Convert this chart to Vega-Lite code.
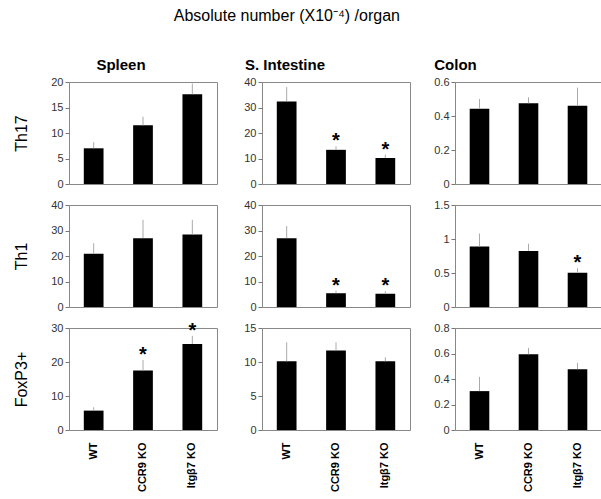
{
  "$schema": "https://vega.github.io/schema/vega-lite/v6.json",
  "background": "white",
  "padding": {"left": 13, "top": 7, "right": 5, "bottom": 5},
  "datasets": {
    "d": [
      {"organ": "Spleen", "cell": "Th17", "genotype": "WT", "value": 7.0, "err": 8.2, "sig": false},
      {"organ": "Spleen", "cell": "Th17", "genotype": "CCR9 KO", "value": 11.5, "err": 13.2, "sig": false},
      {"organ": "Spleen", "cell": "Th17", "genotype": "Itgβ7 KO", "value": 17.6, "err": 19.7, "sig": false},
      {"organ": "S. Intestine", "cell": "Th17", "genotype": "WT", "value": 32.4, "err": 38.0, "sig": false},
      {"organ": "S. Intestine", "cell": "Th17", "genotype": "CCR9 KO", "value": 13.4, "err": 14.8, "sig": true},
      {"organ": "S. Intestine", "cell": "Th17", "genotype": "Itgβ7 KO", "value": 10.2, "err": 11.5, "sig": true},
      {"organ": "Colon", "cell": "Th17", "genotype": "WT", "value": 0.443, "err": 0.5, "sig": false},
      {"organ": "Colon", "cell": "Th17", "genotype": "CCR9 KO", "value": 0.475, "err": 0.51, "sig": false},
      {"organ": "Colon", "cell": "Th17", "genotype": "Itgβ7 KO", "value": 0.461, "err": 0.567, "sig": false},
      {"organ": "Spleen", "cell": "Th1", "genotype": "WT", "value": 20.9, "err": 25.0, "sig": false},
      {"organ": "Spleen", "cell": "Th1", "genotype": "CCR9 KO", "value": 27.0, "err": 34.2, "sig": false},
      {"organ": "Spleen", "cell": "Th1", "genotype": "Itgβ7 KO", "value": 28.4, "err": 34.2, "sig": false},
      {"organ": "S. Intestine", "cell": "Th1", "genotype": "WT", "value": 27.0, "err": 31.8, "sig": false},
      {"organ": "S. Intestine", "cell": "Th1", "genotype": "CCR9 KO", "value": 5.4, "err": 6.4, "sig": true},
      {"organ": "S. Intestine", "cell": "Th1", "genotype": "Itgβ7 KO", "value": 5.2, "err": 6.2, "sig": true},
      {"organ": "Colon", "cell": "Th1", "genotype": "WT", "value": 0.89, "err": 1.08, "sig": false},
      {"organ": "Colon", "cell": "Th1", "genotype": "CCR9 KO", "value": 0.825, "err": 0.93, "sig": false},
      {"organ": "Colon", "cell": "Th1", "genotype": "Itgβ7 KO", "value": 0.505, "err": 0.57, "sig": true},
      {"organ": "Spleen", "cell": "FoxP3+", "genotype": "WT", "value": 5.7, "err": 6.7, "sig": false},
      {"organ": "Spleen", "cell": "FoxP3+", "genotype": "CCR9 KO", "value": 17.5, "err": 20.6, "sig": true},
      {"organ": "Spleen", "cell": "FoxP3+", "genotype": "Itgβ7 KO", "value": 25.3, "err": 27.7, "sig": true},
      {"organ": "S. Intestine", "cell": "FoxP3+", "genotype": "WT", "value": 10.1, "err": 12.9, "sig": false},
      {"organ": "S. Intestine", "cell": "FoxP3+", "genotype": "CCR9 KO", "value": 11.7, "err": 12.9, "sig": false},
      {"organ": "S. Intestine", "cell": "FoxP3+", "genotype": "Itgβ7 KO", "value": 10.1, "err": 10.7, "sig": false},
      {"organ": "Colon", "cell": "FoxP3+", "genotype": "WT", "value": 0.305, "err": 0.417, "sig": false},
      {"organ": "Colon", "cell": "FoxP3+", "genotype": "CCR9 KO", "value": 0.594, "err": 0.644, "sig": false},
      {"organ": "Colon", "cell": "FoxP3+", "genotype": "Itgβ7 KO", "value": 0.477, "err": 0.526, "sig": false}
    ]
  },
  "data": {"name": "d"},
  "title": {"text": "Absolute number (X10⁻⁴) /organ", "font": "Liberation Sans", "fontSize": 16, "fontWeight": "normal", "color": "black", "anchor": "middle", "offset": 34, "dx": -21},
  "columns": 3,
  "spacing": {"row": 21, "column": 45},
  "bounds": "flush",
  "concat": [
    {"width": 148, "height": 102, "title": {"text": "Spleen", "dx": -22},
     "transform": [{"filter": "datum.organ==='Spleen' && datum.cell==='Th17'"}],
     "encoding": {"x": {"field": "genotype", "type": "nominal", "sort": ["WT", "CCR9 KO", "Itgβ7 KO"], "scale": {"paddingInner": 0.6, "paddingOuter": 0.3}, "axis": null}},
     "layer": [
       {"mark": {"type": "bar", "color": "black"}, "encoding": {"y": {"field": "value", "type": "quantitative", "scale": {"domain": [0, 20]}, "axis": {"values": [0, 5, 10, 15, 20], "title": "Th17"}}}},
       {"mark": {"type": "rule", "color": "#aaaaaa"}, "encoding": {"y": {"field": "value", "type": "quantitative", "scale": {"domain": [0, 20]}, "axis": {"values": [0, 5, 10, 15, 20], "title": "Th17"}}, "y2": {"field": "err"}}},
       {"transform": [{"filter": "datum.sig"}], "mark": {"type": "text", "text": "*", "fontSize": 20, "fontWeight": "bold", "font": "Liberation Sans", "baseline": "alphabetic", "dy": 1}, "encoding": {"y": {"field": "err", "type": "quantitative", "scale": {"domain": [0, 20]}, "axis": {"values": [0, 5, 10, 15, 20], "title": "Th17"}}}}
     ]},
    {"width": 148, "height": 102, "title": {"text": "S. Intestine", "dx": -51},
     "transform": [{"filter": "datum.organ==='S. Intestine' && datum.cell==='Th17'"}],
     "encoding": {"x": {"field": "genotype", "type": "nominal", "sort": ["WT", "CCR9 KO", "Itgβ7 KO"], "scale": {"paddingInner": 0.6, "paddingOuter": 0.3}, "axis": null}},
     "layer": [
       {"mark": {"type": "bar", "color": "black"}, "encoding": {"y": {"field": "value", "type": "quantitative", "scale": {"domain": [0, 40]}, "axis": {"values": [0, 10, 20, 30, 40], "title": null}}}},
       {"mark": {"type": "rule", "color": "#aaaaaa"}, "encoding": {"y": {"field": "value", "type": "quantitative", "scale": {"domain": [0, 40]}, "axis": {"values": [0, 10, 20, 30, 40], "title": null}}, "y2": {"field": "err"}}},
       {"transform": [{"filter": "datum.sig"}], "mark": {"type": "text", "text": "*", "fontSize": 20, "fontWeight": "bold", "font": "Liberation Sans", "baseline": "alphabetic", "dy": 1}, "encoding": {"y": {"field": "err", "type": "quantitative", "scale": {"domain": [0, 40]}, "axis": {"values": [0, 10, 20, 30, 40], "title": null}}}}
     ]},
    {"width": 147, "height": 102, "title": {"text": "Colon", "dx": -73},
     "transform": [{"filter": "datum.organ==='Colon' && datum.cell==='Th17'"}],
     "encoding": {"x": {"field": "genotype", "type": "nominal", "sort": ["WT", "CCR9 KO", "Itgβ7 KO"], "scale": {"paddingInner": 0.6, "paddingOuter": 0.3}, "axis": null}},
     "layer": [
       {"mark": {"type": "bar", "color": "black"}, "encoding": {"y": {"field": "value", "type": "quantitative", "scale": {"domain": [0, 0.6]}, "axis": {"values": [0, 0.2, 0.4, 0.6], "title": null}}}},
       {"mark": {"type": "rule", "color": "#aaaaaa"}, "encoding": {"y": {"field": "value", "type": "quantitative", "scale": {"domain": [0, 0.6]}, "axis": {"values": [0, 0.2, 0.4, 0.6], "title": null}}, "y2": {"field": "err"}}},
       {"transform": [{"filter": "datum.sig"}], "mark": {"type": "text", "text": "*", "fontSize": 20, "fontWeight": "bold", "font": "Liberation Sans", "baseline": "alphabetic", "dy": 1}, "encoding": {"y": {"field": "err", "type": "quantitative", "scale": {"domain": [0, 0.6]}, "axis": {"values": [0, 0.2, 0.4, 0.6], "title": null}}}}
     ]},
    {"width": 148, "height": 102,
     "transform": [{"filter": "datum.organ==='Spleen' && datum.cell==='Th1'"}],
     "encoding": {"x": {"field": "genotype", "type": "nominal", "sort": ["WT", "CCR9 KO", "Itgβ7 KO"], "scale": {"paddingInner": 0.6, "paddingOuter": 0.3}, "axis": null}},
     "layer": [
       {"mark": {"type": "bar", "color": "black"}, "encoding": {"y": {"field": "value", "type": "quantitative", "scale": {"domain": [0, 40]}, "axis": {"values": [0, 10, 20, 30, 40], "title": "Th1"}}}},
       {"mark": {"type": "rule", "color": "#aaaaaa"}, "encoding": {"y": {"field": "value", "type": "quantitative", "scale": {"domain": [0, 40]}, "axis": {"values": [0, 10, 20, 30, 40], "title": "Th1"}}, "y2": {"field": "err"}}},
       {"transform": [{"filter": "datum.sig"}], "mark": {"type": "text", "text": "*", "fontSize": 20, "fontWeight": "bold", "font": "Liberation Sans", "baseline": "alphabetic", "dy": 1}, "encoding": {"y": {"field": "err", "type": "quantitative", "scale": {"domain": [0, 40]}, "axis": {"values": [0, 10, 20, 30, 40], "title": "Th1"}}}}
     ]},
    {"width": 148, "height": 102,
     "transform": [{"filter": "datum.organ==='S. Intestine' && datum.cell==='Th1'"}],
     "encoding": {"x": {"field": "genotype", "type": "nominal", "sort": ["WT", "CCR9 KO", "Itgβ7 KO"], "scale": {"paddingInner": 0.6, "paddingOuter": 0.3}, "axis": null}},
     "layer": [
       {"mark": {"type": "bar", "color": "black"}, "encoding": {"y": {"field": "value", "type": "quantitative", "scale": {"domain": [0, 40]}, "axis": {"values": [0, 10, 20, 30, 40], "title": null}}}},
       {"mark": {"type": "rule", "color": "#aaaaaa"}, "encoding": {"y": {"field": "value", "type": "quantitative", "scale": {"domain": [0, 40]}, "axis": {"values": [0, 10, 20, 30, 40], "title": null}}, "y2": {"field": "err"}}},
       {"transform": [{"filter": "datum.sig"}], "mark": {"type": "text", "text": "*", "fontSize": 20, "fontWeight": "bold", "font": "Liberation Sans", "baseline": "alphabetic", "dy": 1}, "encoding": {"y": {"field": "err", "type": "quantitative", "scale": {"domain": [0, 40]}, "axis": {"values": [0, 10, 20, 30, 40], "title": null}}}}
     ]},
    {"width": 147, "height": 102,
     "transform": [{"filter": "datum.organ==='Colon' && datum.cell==='Th1'"}],
     "encoding": {"x": {"field": "genotype", "type": "nominal", "sort": ["WT", "CCR9 KO", "Itgβ7 KO"], "scale": {"paddingInner": 0.6, "paddingOuter": 0.3}, "axis": null}},
     "layer": [
       {"mark": {"type": "bar", "color": "black"}, "encoding": {"y": {"field": "value", "type": "quantitative", "scale": {"domain": [0, 1.5]}, "axis": {"values": [0, 0.5, 1, 1.5], "title": null}}}},
       {"mark": {"type": "rule", "color": "#aaaaaa"}, "encoding": {"y": {"field": "value", "type": "quantitative", "scale": {"domain": [0, 1.5]}, "axis": {"values": [0, 0.5, 1, 1.5], "title": null}}, "y2": {"field": "err"}}},
       {"transform": [{"filter": "datum.sig"}], "mark": {"type": "text", "text": "*", "fontSize": 20, "fontWeight": "bold", "font": "Liberation Sans", "baseline": "alphabetic", "dy": 1}, "encoding": {"y": {"field": "err", "type": "quantitative", "scale": {"domain": [0, 1.5]}, "axis": {"values": [0, 0.5, 1, 1.5], "title": null}}}}
     ]},
    {"width": 148, "height": 102,
     "transform": [{"filter": "datum.organ==='Spleen' && datum.cell==='FoxP3+'"}],
     "encoding": {"x": {"field": "genotype", "type": "nominal", "sort": ["WT", "CCR9 KO", "Itgβ7 KO"], "scale": {"paddingInner": 0.6, "paddingOuter": 0.3}, "axis": {"title": null, "labelAngle": -90, "ticks": false, "domain": false, "labelFontWeight": "bold", "labelPadding": 12, "labelColor": "black"}}},
     "layer": [
       {"mark": {"type": "bar", "color": "black"}, "encoding": {"y": {"field": "value", "type": "quantitative", "scale": {"domain": [0, 30]}, "axis": {"values": [0, 10, 20, 30], "title": "FoxP3+"}}}},
       {"mark": {"type": "rule", "color": "#aaaaaa"}, "encoding": {"y": {"field": "value", "type": "quantitative", "scale": {"domain": [0, 30]}, "axis": {"values": [0, 10, 20, 30], "title": "FoxP3+"}}, "y2": {"field": "err"}}},
       {"transform": [{"filter": "datum.sig"}], "mark": {"type": "text", "text": "*", "fontSize": 20, "fontWeight": "bold", "font": "Liberation Sans", "baseline": "alphabetic", "dy": 1}, "encoding": {"y": {"field": "err", "type": "quantitative", "scale": {"domain": [0, 30]}, "axis": {"values": [0, 10, 20, 30], "title": "FoxP3+"}}}}
     ]},
    {"width": 148, "height": 102,
     "transform": [{"filter": "datum.organ==='S. Intestine' && datum.cell==='FoxP3+'"}],
     "encoding": {"x": {"field": "genotype", "type": "nominal", "sort": ["WT", "CCR9 KO", "Itgβ7 KO"], "scale": {"paddingInner": 0.6, "paddingOuter": 0.3}, "axis": {"title": null, "labelAngle": -90, "ticks": false, "domain": false, "labelFontWeight": "bold", "labelPadding": 12, "labelColor": "black"}}},
     "layer": [
       {"mark": {"type": "bar", "color": "black"}, "encoding": {"y": {"field": "value", "type": "quantitative", "scale": {"domain": [0, 15]}, "axis": {"values": [0, 5, 10, 15], "title": null}}}},
       {"mark": {"type": "rule", "color": "#aaaaaa"}, "encoding": {"y": {"field": "value", "type": "quantitative", "scale": {"domain": [0, 15]}, "axis": {"values": [0, 5, 10, 15], "title": null}}, "y2": {"field": "err"}}},
       {"transform": [{"filter": "datum.sig"}], "mark": {"type": "text", "text": "*", "fontSize": 20, "fontWeight": "bold", "font": "Liberation Sans", "baseline": "alphabetic", "dy": 1}, "encoding": {"y": {"field": "err", "type": "quantitative", "scale": {"domain": [0, 15]}, "axis": {"values": [0, 5, 10, 15], "title": null}}}}
     ]},
    {"width": 147, "height": 102,
     "transform": [{"filter": "datum.organ==='Colon' && datum.cell==='FoxP3+'"}],
     "encoding": {"x": {"field": "genotype", "type": "nominal", "sort": ["WT", "CCR9 KO", "Itgβ7 KO"], "scale": {"paddingInner": 0.6, "paddingOuter": 0.3}, "axis": {"title": null, "labelAngle": -90, "ticks": false, "domain": false, "labelFontWeight": "bold", "labelPadding": 12, "labelColor": "black"}}},
     "layer": [
       {"mark": {"type": "bar", "color": "black"}, "encoding": {"y": {"field": "value", "type": "quantitative", "scale": {"domain": [0, 0.8]}, "axis": {"values": [0, 0.2, 0.4, 0.6, 0.8], "title": null}}}},
       {"mark": {"type": "rule", "color": "#aaaaaa"}, "encoding": {"y": {"field": "value", "type": "quantitative", "scale": {"domain": [0, 0.8]}, "axis": {"values": [0, 0.2, 0.4, 0.6, 0.8], "title": null}}, "y2": {"field": "err"}}},
       {"transform": [{"filter": "datum.sig"}], "mark": {"type": "text", "text": "*", "fontSize": 20, "fontWeight": "bold", "font": "Liberation Sans", "baseline": "alphabetic", "dy": 1}, "encoding": {"y": {"field": "err", "type": "quantitative", "scale": {"domain": [0, 0.8]}, "axis": {"values": [0, 0.2, 0.4, 0.6, 0.8], "title": null}}}}
     ]}
  ],
  "config": {
    "font": "Liberation Sans",
    "view": {"stroke": "#888888", "strokeWidth": 1},
    "title": {"font": "Liberation Sans", "fontSize": 15, "fontWeight": "bold", "color": "black", "offset": 3, "anchor": "middle"},
    "axis": {"labelFont": "Liberation Sans", "labelFontSize": 11, "labelColor": "#333333", "titleFont": "Liberation Sans", "titleColor": "black", "grid": false},
    "axisY": {"domain": false, "tickColor": "#777777", "tickSize": 4, "labelPadding": 2, "titleFontSize": 16, "titleFontWeight": "normal", "titlePadding": 21, "labelFlush": false, "labelOverlap": false, "format": "~r"}
  }
}
